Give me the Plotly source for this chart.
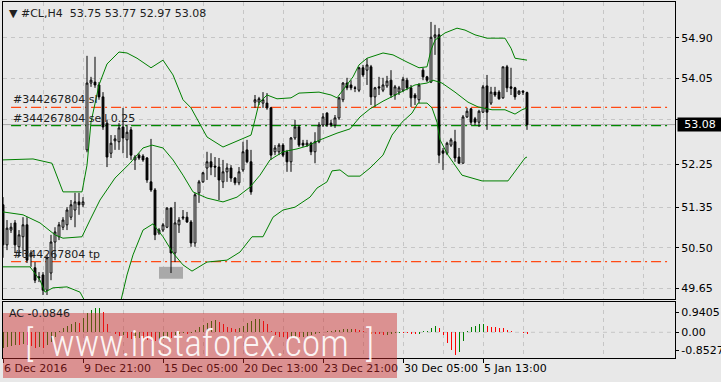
import plotly.graph_objects as go

# ---------------- data ----------------
bar_idx = list(range(132))
open_ = [51.40,50.56,50.87,51.02,50.52,50.73,50.98,50.31,50.08,49.89,
         49.93,49.61,49.97,50.62,50.73,50.93,50.98,51.14,51.29,51.46,
         51.40,52.55,53.95,53.97,53.91,53.66,53.11,52.48,52.74,52.72,
         53.03,52.76,52.97,52.34,52.44,52.42,52.38,51.88,51.71,50.81,
         50.87,50.93,51.33,50.39,50.98,51.12,51.14,51.04,50.60,51.65,
         51.88,52.17,52.30,52.21,52.19,51.88,52.09,52.17,51.96,51.86,
         52.13,52.55,52.30,53.55,53.55,53.53,53.53,53.43,52.51,52.51,
         52.65,52.51,52.30,52.80,53.03,52.69,52.65,52.69,52.51,52.72,
         53.07,53.32,53.11,53.07,53.22,53.60,53.95,53.91,53.85,53.80,
         54.27,54.22,54.29,53.66,53.87,53.80,53.89,54.01,53.70,53.76,
         53.80,54.01,53.85,53.70,53.60,54.22,54.08,53.97,54.91,54.96,
         52.53,52.48,52.65,52.72,52.40,52.27,53.24,53.41,53.20,53.13,
         53.34,53.89,53.53,53.76,53.76,53.64,54.29,53.87,53.85,53.72,
         53.78,53.75]
high = [51.56,51.08,51.02,51.08,50.87,51.14,51.14,50.45,50.20,49.99,
        49.99,50.35,50.77,50.93,51.04,51.14,51.35,51.50,51.65,51.65,
        51.56,54.52,54.08,54.50,53.97,53.76,53.18,52.86,52.86,53.11,
        53.43,53.07,53.03,52.44,52.48,52.46,52.40,52.78,51.75,50.91,
        51.02,51.35,51.35,51.46,51.14,51.29,51.25,51.08,51.65,51.92,
        52.09,52.51,52.48,52.40,52.38,52.34,52.27,52.23,51.98,52.19,
        52.72,52.76,52.55,53.70,53.66,53.76,53.74,53.45,52.65,52.69,
        52.69,52.55,52.82,53.18,53.07,52.76,52.76,52.72,52.92,53.13,
        53.32,53.34,53.18,53.28,53.66,53.97,54.06,54.01,53.89,54.29,
        54.33,54.47,54.33,53.87,54.08,54.06,54.10,54.22,53.91,53.89,
        54.08,54.06,53.91,53.74,53.95,54.27,54.10,55.23,55.17,55.10,
        52.59,52.72,52.80,52.97,52.59,53.28,53.43,53.43,53.24,53.39,
        53.91,54.12,53.87,53.87,53.80,54.29,54.33,54.27,53.87,53.80,
        53.80,53.77]
low = [50.29,50.45,50.81,50.39,50.31,50.31,50.18,50.10,49.76,49.78,
       49.51,49.51,49.82,50.24,50.66,50.87,50.87,51.08,50.93,51.19,
       51.35,52.50,53.87,53.85,53.60,52.97,52.19,52.38,52.55,52.55,
       52.48,52.38,52.34,52.13,52.34,52.30,51.86,51.67,50.66,50.77,
       50.83,50.91,49.97,50.20,50.81,51.08,51.02,50.52,50.52,51.44,
       51.86,51.92,52.02,51.98,51.50,51.75,51.88,51.88,51.81,51.81,
       52.09,52.27,51.61,53.43,53.49,53.43,53.39,52.34,52.44,52.44,
       52.40,52.09,52.09,52.76,52.61,52.61,52.61,52.44,52.27,52.69,
       53.03,53.03,53.03,53.01,53.18,53.55,53.80,53.80,53.76,53.76,
       54.08,53.91,53.49,53.45,53.70,53.76,53.85,53.64,53.60,53.70,
       53.76,53.80,53.45,53.49,53.53,54.01,53.97,53.95,54.54,52.27,
       52.13,52.44,52.61,52.30,52.27,52.27,53.22,53.07,53.07,53.03,
       53.32,52.97,53.49,53.66,53.60,53.62,53.76,53.70,53.60,53.70,
       53.70,52.97]
close = [50.56,50.91,50.93,50.56,50.77,50.98,50.24,50.39,49.82,49.87,
         49.61,50.29,50.62,50.83,50.98,51.08,51.29,51.40,51.46,51.40,
         51.46,53.95,54.01,53.91,53.66,53.03,52.40,52.69,52.78,53.01,
         52.80,52.92,52.44,52.40,52.38,52.34,51.92,51.71,50.77,50.87,
         50.98,51.33,50.39,51.02,51.08,51.14,51.04,50.60,51.61,51.88,
         52.07,52.30,52.19,52.19,51.92,52.09,52.17,51.96,51.86,52.09,
         52.51,52.30,51.67,53.60,53.62,53.60,53.43,52.44,52.59,52.65,
         52.44,52.30,52.80,53.03,52.65,52.65,52.69,52.51,52.72,53.07,
         53.24,53.07,53.07,53.22,53.64,53.95,53.85,53.85,53.84,54.27,
         54.12,54.33,53.66,53.85,53.85,53.91,53.99,53.70,53.87,53.85,
         54.03,53.85,53.64,53.64,53.91,54.08,54.01,54.91,54.96,52.44,
         52.48,52.69,52.76,52.38,52.27,53.24,53.36,53.13,53.13,53.36,
         53.87,53.34,53.76,53.70,53.62,54.29,53.85,53.84,53.66,53.78,
         53.76,53.08]

# Bollinger bands (knots: bar index, price)
bb_up_x = [0,7.5,12.25,15,19.75,20,21,22,23,24,26,29,31,33.5,37,40,42.5,45,47,51,55,59,62,63,64,66,68.5,72,74,79,82,83.5,86,87.5,89,91,95,97.5,101,104,106,107,108,109,110.5,113.5,115.5,118,121,125.5,127,128,131]
bb_up_y = [52.34,52.36,52.27,51.67,51.67,51.80,52.23,53.13,53.53,53.91,54.35,54.60,54.58,54.47,54.27,54.43,54.12,53.60,53.43,52.82,52.61,52.76,52.86,53.18,53.53,53.70,53.62,53.64,53.74,53.76,53.70,53.64,53.91,54.08,54.33,54.47,54.58,54.54,54.39,54.27,54.29,54.64,54.85,54.91,55.00,55.10,55.06,54.96,54.89,54.89,54.68,54.47,54.43]
bb_mid_x = [0,5,9.25,13,15,19.75,21.75,24.25,28,31.75,35,37.25,40,42.5,45,47.5,51,55,58.5,61.75,64.25,66.75,70,73.5,76,79.25,83.5,86.75,89.25,91.75,95,97.5,100.5,103,106,107.5,109.75,113,116.25,118.75,122.25,125.5,128,129.75,131]
bb_mid_y = [51.25,51.19,51.02,50.77,50.70,50.73,51.08,51.50,51.96,52.27,52.59,52.65,52.59,52.34,52.02,51.67,51.54,51.46,51.56,51.77,52.02,52.34,52.51,52.57,52.63,52.76,52.90,52.99,53.24,53.41,53.57,53.68,53.80,53.91,53.95,54.01,53.95,53.76,53.55,53.45,53.39,53.39,53.30,53.39,53.43]
bb_low_x = [0,6.75,9.25,10.5,12.5,16,19.25,21,23.5,26,28,29.5,31,32.5,35,37.5,40,42.5,45,47.25,51,56,59.25,62.25,65,67.5,70,73,76.75,78.5,81,82.25,84.25,86.25,89.25,91.75,95,97.25,99.75,102.25,103.75,106,107.25,108.5,109.25,111.25,114.75,119.75,126.25,128,130.5,131]
bb_low_y = [50.10,50.10,49.82,49.57,49.66,49.68,49.57,49.30,48.67,48.57,48.99,49.40,49.93,50.35,50.87,51.00,50.73,50.39,50.14,50.01,50.20,50.24,50.41,50.73,50.73,51.14,51.29,51.35,51.56,51.75,51.88,52.11,52.13,52.00,52.00,52.17,52.44,52.86,53.13,53.32,53.53,53.53,53.43,53.13,52.76,52.44,52.02,51.90,51.90,52.09,52.38,52.40]

# Accelerator oscillator values
ac = [-0.75,-0.70,-0.65,-0.60,-0.62,-0.55,-0.60,-0.66,-0.72,-0.70,
      -0.73,-0.62,-0.45,-0.20,0.05,0.20,0.30,0.40,0.50,0.45,
      0.65,0.90,1.05,1.15,1.16,0.95,0.40,0.00,-0.10,-0.18,
      -0.15,-0.25,-0.30,-0.28,-0.26,-0.28,-0.35,-0.40,-0.42,-0.40,
      -0.30,-0.20,-0.25,-0.15,-0.08,-0.05,-0.08,-0.05,0.10,0.25,
      0.35,0.45,0.55,0.58,0.50,0.40,0.25,0.20,0.15,0.18,
      0.30,0.45,0.55,0.62,0.63,0.55,0.40,0.05,-0.15,-0.20,
      -0.22,-0.30,-0.28,-0.20,-0.22,-0.20,-0.18,-0.15,-0.10,-0.05,
      0.02,0.05,0.08,0.10,0.12,0.14,0.15,0.16,0.15,0.12,
      0.08,0.02,-0.06,-0.08,-0.10,-0.15,-0.12,-0.08,-0.04,-0.02,
      -0.03,-0.05,-0.08,-0.10,-0.06,0.05,0.08,0.20,0.30,0.19,
      -0.13,-0.52,-0.83,-1.07,-0.91,-0.41,0.05,0.27,0.31,0.38,
      0.39,0.30,0.27,0.23,0.22,0.19,0.11,0.06,0.03,0.01,
      -0.02,-0.08]

x_tick_pos = [0,20,40,60,80,100,120]
x_tick_text = ["6 Dec 2016","9 Dec 21:00","15 Dec 05:00","20 Dec 13:00",
               "23 Dec 21:00","30 Dec 05:00","5 Jan 13:00"]
price_ticks = [54.90,54.05,53.18,52.25,51.35,50.50,49.65]
price_tick_text = ["54.90","54.05","","52.25","51.35","50.50","49.65"]
ac_ticks = [0.9405,0.0,-0.8527]
ac_tick_text = ["0.9405","0.00","-0.8527"]

symbol_header = "#CL,H4  53.75 53.77 52.97 53.08"
ac_header = "AC -0.0846"
order_id = "#344267804"
sl_price = 53.44
sell_price = 53.06
tp_price = 50.21
bid_price = 53.08
lot = 0.25
mark_x = [39, 45]
mark_y = [49.85, 50.10]

# ---------------- figure ----------------
W, H = 721, 382
ML, MR, MT, MB = 3, 46, 2, 24
PH = H - MT - MB
main_bottom = (358 - 299) / PH
sub_top = (358 - 302) / PH

FONT = "DejaVu Sans"
BG = "#e8e8e8"
GRID = "#c6c6c6"
GREEN = "#008000"
ORANGE = "#ff4a14"

fig = go.Figure()

fig.add_trace(go.Candlestick(
    x=bar_idx, open=open_, high=high, low=low, close=close,
    increasing=dict(line=dict(color="black", width=1), fillcolor="white"),
    decreasing=dict(line=dict(color="black", width=1), fillcolor="black"),
    whiskerwidth=0, hoverinfo="skip", xaxis="x", yaxis="y", showlegend=False))

for bx, by in [(bb_up_x, bb_up_y), (bb_mid_x, bb_mid_y), (bb_low_x, bb_low_y)]:
    fig.add_trace(go.Scatter(x=bx, y=by, mode="lines",
                             line=dict(color=GREEN, width=1),
                             hoverinfo="skip", showlegend=False,
                             xaxis="x", yaxis="y"))

ac_colors = []
for k, v in enumerate(ac):
    prev = ac[k - 1] if k > 0 else v - 1
    ac_colors.append("#008000" if v > prev else "#ff0000")
fig.add_trace(go.Bar(x=bar_idx, y=ac, width=0.25, marker=dict(color=ac_colors, line=dict(width=0)),
                     hoverinfo="skip", showlegend=False, xaxis="x2", yaxis="y2"))

xr = [0, 168]
fig.update_layout(
    width=W, height=H, margin=dict(l=ML, r=MR, t=MT, b=MB, autoexpand=False),
    paper_bgcolor=BG, plot_bgcolor=BG,
    font=dict(family=FONT, size=11, color="black"),
    boxgap=0.35,
    xaxis=dict(domain=[0, 1], range=xr, anchor="y", showticklabels=False,
               tickvals=list(range(0, 170, 10)), ticks="", automargin=False,
               showgrid=True, gridcolor=GRID, griddash="4px,4px", gridwidth=1,
               showline=True, linecolor="black", linewidth=1, mirror=True,
               zeroline=False, rangeslider=dict(visible=False), fixedrange=True),
    yaxis=dict(domain=[main_bottom, 1], range=[49.426, 55.648], side="right",
               anchor="x", tickvals=price_ticks, ticktext=price_tick_text,
               ticks="outside", ticklen=3, tickcolor="black", automargin=False,
               showgrid=True, gridcolor=GRID, griddash="4px,4px",
               showline=True, linecolor="black", linewidth=1, mirror=True,
               zeroline=False, tickfont=dict(size=11)),
    xaxis2=dict(domain=[0, 1], range=xr, anchor="y2", automargin=False,
                tickvals=x_tick_pos, ticktext=x_tick_text, tickangle=0,
                ticks="outside", ticklen=4, tickcolor="black",
                ticklabelposition="outside right",
                showgrid=True, gridcolor=GRID, griddash="4px,4px",
                minor=dict(tickvals=list(range(10, 170, 20)), showgrid=True,
                           gridcolor=GRID, griddash="4px,4px", ticks=""),
                showline=True, linecolor="black", linewidth=1, mirror=True,
                zeroline=False, tickfont=dict(size=11)),
    yaxis2=dict(domain=[0, sub_top], range=[-1.208, 1.424], side="right",
                anchor="x2", tickvals=ac_ticks, ticktext=ac_tick_text,
                ticks="outside", ticklen=3, tickcolor="black", automargin=False,
                showgrid=False,
                showline=True, linecolor="black", linewidth=1, mirror=True,
                zeroline=False, tickfont=dict(size=11)),
    bargap=0,
)

# zero line dashed for AC
fig.add_shape(type="line", xref="x2", yref="y2", x0=xr[0], x1=xr[1], y0=0, y1=0,
              line=dict(color=GRID, width=1, dash="4px,4px"), layer="between")

# order lines
fig.add_shape(type="line", xref="paper", yref="y", x0=0, x1=1, y0=bid_price, y1=bid_price,
              line=dict(color="#a8a8a8", width=1), layer="between")
for pr, col in [(sl_price, ORANGE), (tp_price, ORANGE), (sell_price, "#008a00")]:
    fig.add_shape(type="line", xref="paper", yref="y", x0=0.012, x1=0.99, y0=pr, y1=pr,
                  line=dict(color=col, width=1.3, dash="10px,4px,2px,4px"), layer="between")

# highlight box
fig.add_shape(type="rect", xref="x", yref="y", x0=mark_x[0], x1=mark_x[1],
              y0=mark_y[0], y1=mark_y[1], fillcolor="#a9a9a9", line=dict(width=0),
              layer="between")

# texts
def txt(x, y, s, xref="paper", yref="paper", **kw):
    d = dict(x=x, y=y, xref=xref, yref=yref, text=s, showarrow=False,
             xanchor="left", font=dict(family=FONT, size=11, color="#202020"))
    d.update(kw)
    fig.add_annotation(**d)

txt(0.006, 1 - 11/PH, "▼ " + symbol_header, yanchor="middle")
txt(0.0125, sl_price, f"{order_id} sl", yref="y", yanchor="bottom", yshift=-1)
txt(0.0125, sell_price, f"{order_id} sell {lot}", yref="y", yanchor="bottom", yshift=-1)
txt(0.0125, tp_price, f"{order_id} tp", yref="y", yanchor="bottom", yshift=-1)
txt(0.006, (358 - 313) / PH, ac_header, yanchor="middle")

# current price box
fig.add_annotation(x=1.0025, y=bid_price, xref="paper", yref="y", text="53.08",
                   showarrow=False, xanchor="left", yanchor="middle",
                   bgcolor="black", font=dict(family=FONT, size=11, color="white"),
                   width=44, height=13, align="center", borderpad=0)

# watermark
fig.add_shape(type="rect", xref="paper", yref="paper", x0=0, x1=(397 - 3) / 672,
              y0=(358 - 378) / PH, y1=(358 - 313) / PH,
              fillcolor="rgba(205,40,40,0.45)", line=dict(width=0), layer="above")
fig.add_annotation(x=(199 - 3) / 672, y=(358 - 343) / PH, xref="paper", yref="paper",
                   text="[  www.instaforex.com  ]", showarrow=False,
                   xanchor="center", yanchor="middle",
                   font=dict(family="Roboto Condensed, Roboto, sans-serif", weight=300,
                             size=37.5, color="rgba(255,255,255,0.92)"))

fig.write_html("out.html", include_plotlyjs=True, config=dict(displayModeBar=False, staticPlot=True))
